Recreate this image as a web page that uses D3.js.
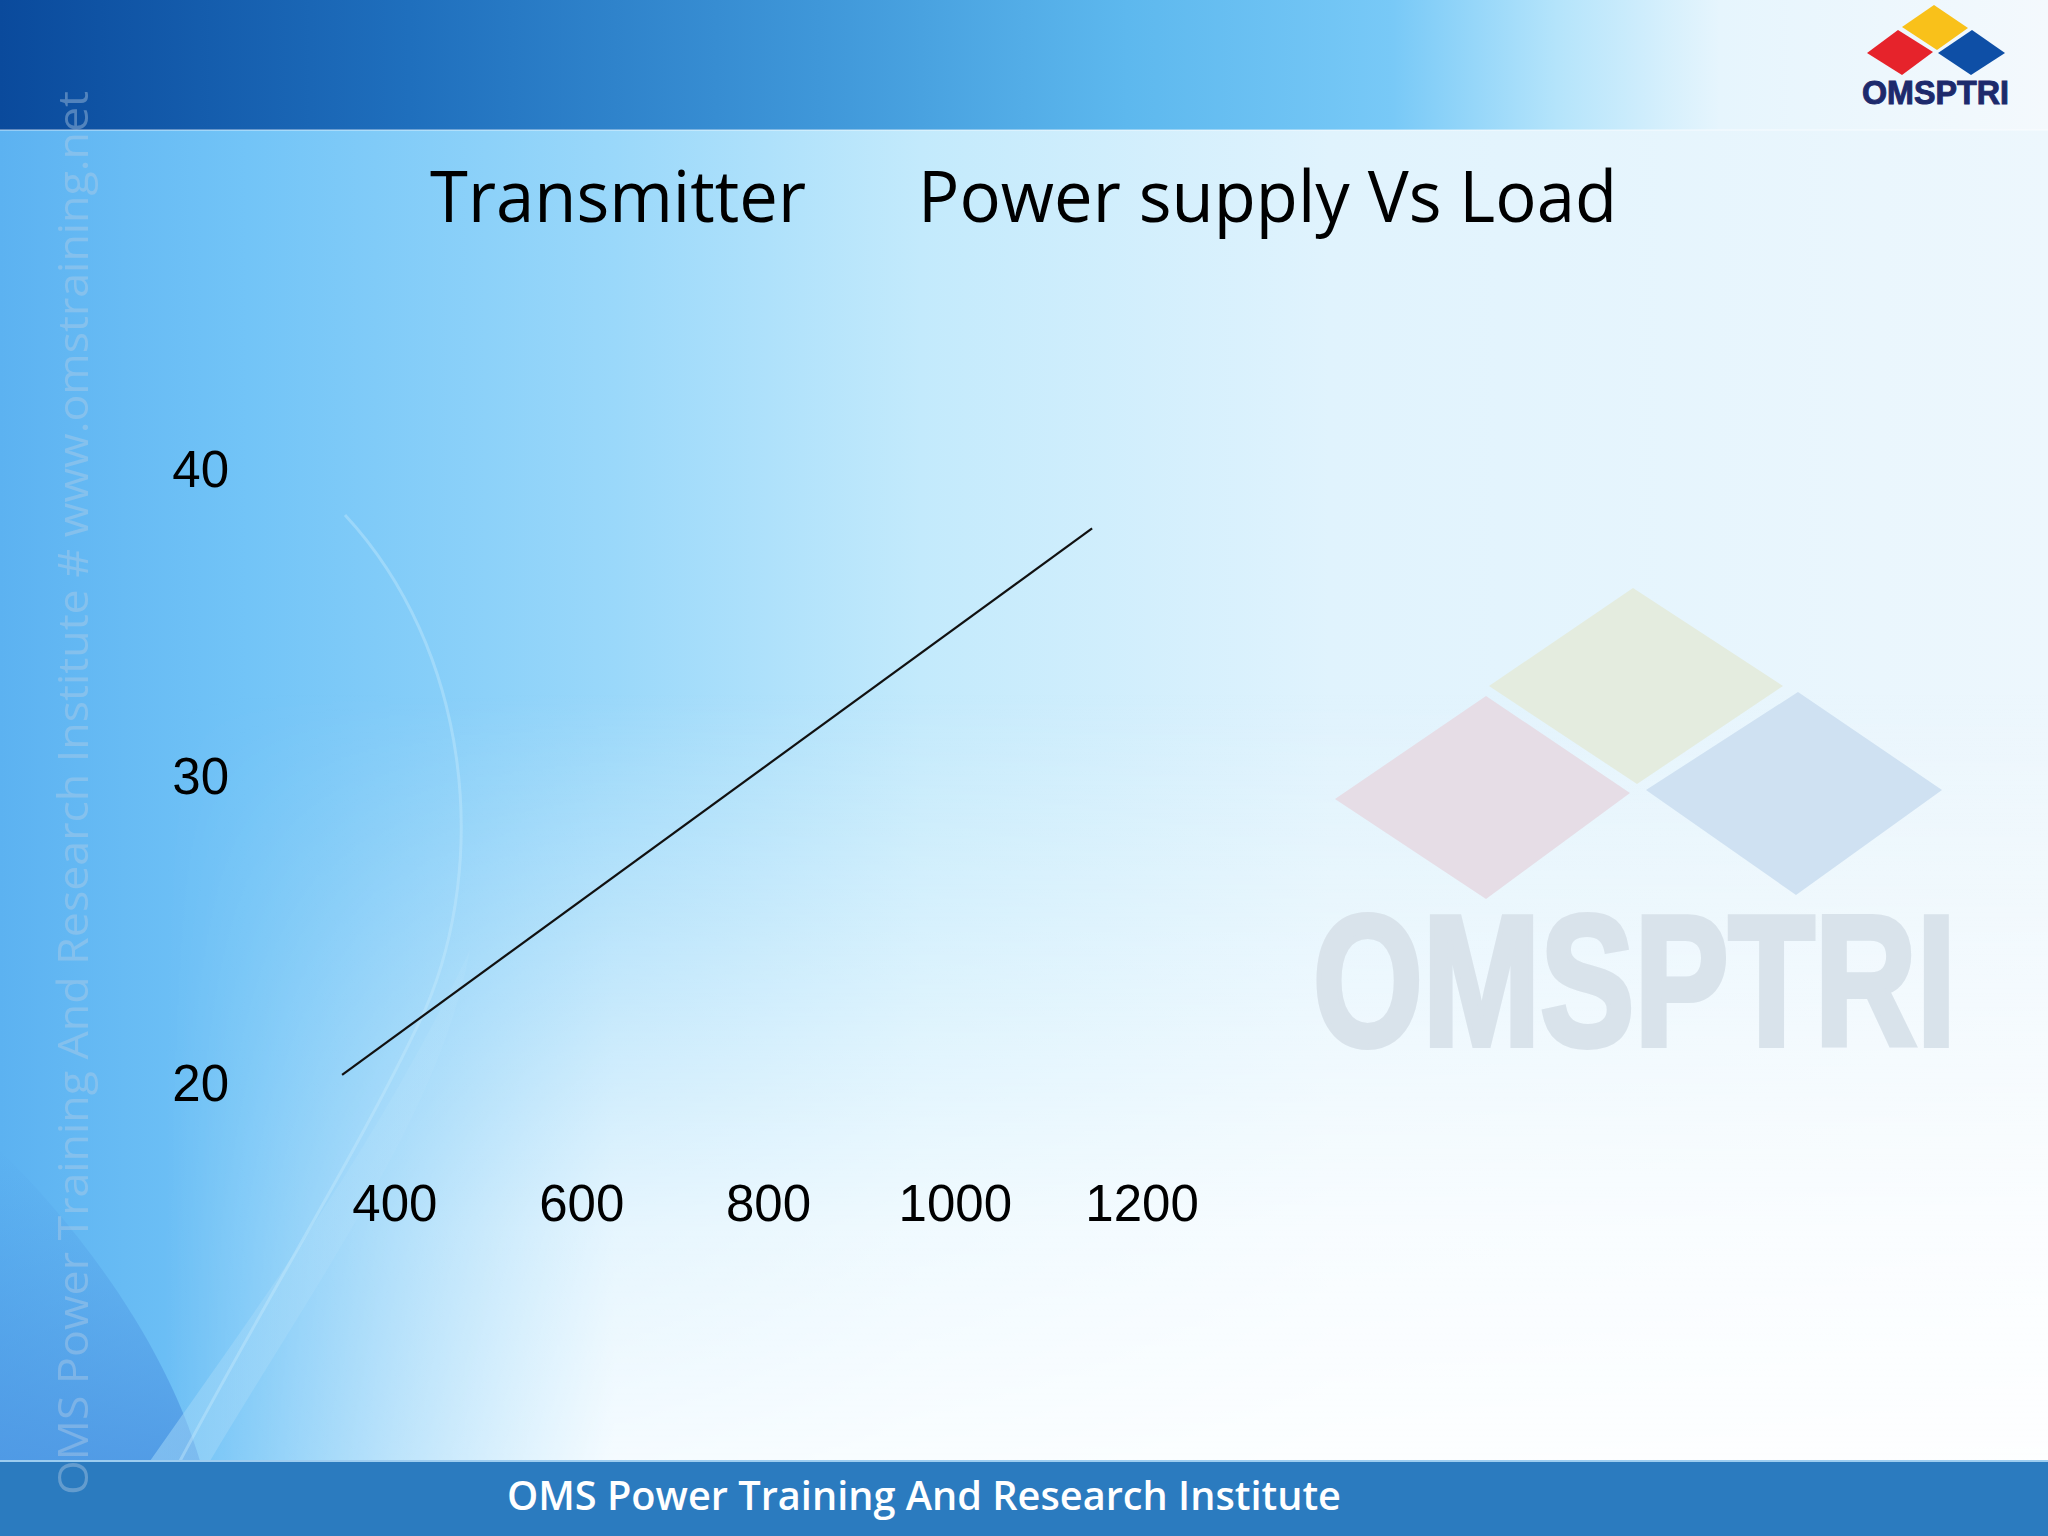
<!DOCTYPE html>
<html><head><meta charset="utf-8">
<script src="https://cdn.jsdelivr.net/npm/d3@7"></script>
<style>html,body{margin:0;padding:0;overflow:hidden;background:#fff}</style>
</head><body><svg id="c" width="2048" height="1536"></svg>
<script>
// ---- data ----
const titleParts = ["Transmitter", "Power supply Vs Load"];
const loadTicks = [400, 600, 800, 1000, 1200];
const voltTicks = [20, 30, 40];
const loadValues = [344, 1147];
const voltValues = [20.3, 38.1];
const footerText = "OMS Power Training And Research Institute";
const sideText = "OMS Power Training And Research Institute # www.omstraining.net";
const logoText = "OMSPTRI";

const svg = d3.select("#c");
const W = 2048, H = 1536;
const defs = svg.append("defs");

function lin(id, x1, y1, x2, y2, stops) {
  const g = defs.append("linearGradient").attr("id", id)
    .attr("x1", x1).attr("y1", y1).attr("x2", x2).attr("y2", y2);
  stops.forEach(s => g.append("stop").attr("offset", s[0]).attr("stop-color", s[1]).attr("stop-opacity", s[2] == null ? 1 : s[2]));
}
lin("bgH", 0, 0, 1, 0, [[0, "#5cb2f1"], [0.12, "#72c4f7"], [0.3, "#9ad8fa"], [0.45, "#c3eafc"], [0.65, "#e0f3fd"], [1, "#edf7fd"]]);
lin("bgV", 0, 0, 0, 1, [[0, "#ffffff", 0], [0.45, "#ffffff", 0], [0.8, "#ffffff", 0.75], [1, "#ffffff", 0.95]]);
lin("maskH", 0, 0, 1, 0, [[0, "#000000"], [0.08, "#000000"], [0.3, "#ffffff"], [1, "#ffffff"]]);
lin("hdr", 0, 0, 1, 0, [[0, "#0a4a9c"], [0.2, "#1f6fbd"], [0.4, "#3f97d9"], [0.55, "#5db8ee"], [0.68, "#78c9f7"], [0.76, "#b4e4fb"], [0.84, "#e6f5fd"], [1, "#f4f9fd"]]);
lin("swoosh", 0, 1, 1, 0, [[0, "#9fd6f8", 0.55], [1, "#bfe6fb", 0.15]]);
lin("corner", 0, 0, 0, 1, [[0, "#4c94e2", 0], [1, "#4c94e2", 0.8]]);

const mask = defs.append("mask").attr("id", "mH");
mask.append("rect").attr("width", W).attr("height", H).attr("fill", "url(#maskH)");

// background
svg.append("rect").attr("width", W).attr("height", H).attr("fill", "url(#bgH)");
svg.append("rect").attr("width", W).attr("height", H).attr("fill", "url(#bgV)").attr("mask", "url(#mH)");
svg.append("path").attr("d", "M0,1150 C100,1250 170,1360 200,1461 L0,1461 Z").attr("fill", "url(#corner)");
svg.append("path")
  .attr("d", "M470,950 C440,1110 330,1260 210,1461 L150,1461 C270,1290 380,1140 470,950 Z")
  .attr("fill", "url(#swoosh)");
svg.append("path")
  .attr("d", "M345,515 C470,650 490,860 425,1010 C365,1140 265,1300 180,1461")
  .attr("fill", "none").attr("stroke", "#c8ecfc").attr("stroke-width", 3).attr("opacity", 0.4);

// header
svg.append("rect").attr("width", W).attr("height", 130).attr("fill", "url(#hdr)");
svg.append("rect").attr("y", 129).attr("width", W).attr("height", 2).attr("fill", "#ffffff").attr("opacity", 0.35);

// footer
svg.append("rect").attr("y", 1461).attr("width", W).attr("height", H - 1461).attr("fill", "#2b7bbf");
svg.append("rect").attr("y", 1460).attr("width", W).attr("height", 2).attr("fill", "#9ccdf0");
svg.append("text").attr("x", 507).attr("y", 1510)
  .attr("font-family", "'Open Sans', 'Noto Sans', sans-serif").attr("font-size", 40).attr("font-weight", 600)
  .attr("fill", "#ffffff").attr("textLength", 834).attr("lengthAdjust", "spacingAndGlyphs")
  .text(footerText);

// side watermark text
svg.append("text").attr("transform", "translate(88,1495) rotate(-90)")
  .attr("font-family", "'Open Sans', 'Noto Sans', sans-serif").attr("font-size", 42)
  .attr("fill", "#b8cfe6").attr("opacity", 0.4)
  .attr("textLength", 1404).attr("lengthAdjust", "spacingAndGlyphs")
  .text(sideText);

// fitted condensed text helper (scales horizontally to a target width)
function fitText(parent, x0, y0, width, size, fill, sw) {
  const t = parent.append("text")
    .attr("font-family", "'Liberation Sans', Arial, sans-serif")
    .attr("font-weight", "bold").attr("font-size", size)
    .attr("fill", fill).attr("stroke", fill).attr("stroke-width", sw)
    .text(logoText);
  const w = t.node().getComputedTextLength();
  t.attr("transform", `translate(${x0},${y0}) scale(${width / w},1)`);
  return t;
}

// big faded watermark logo
const wm = svg.append("g");
wm.append("polygon").attr("points", "1633,588 1783,686 1637,784 1489,686").attr("fill", "#e4ecdf");
wm.append("polygon").attr("points", "1486,696 1630,793 1486,899 1335,799").attr("fill", "#e6dde6");
wm.append("polygon").attr("points", "1798,692 1942,790 1796,895 1646,790").attr("fill", "#cfe1f2");
fitText(wm, 1313, 1045, 643, 186, "#d9e3eb", 6);

// header logo
const lg = svg.append("g");
lg.append("polygon").attr("points", "1934,5 1968,28 1937,50 1902,27").attr("fill", "#f9c11a");
lg.append("polygon").attr("points", "1898,30 1933,52 1902,75 1867,53").attr("fill", "#e6232b");
lg.append("polygon").attr("points", "1972,30 2005,53 1971,75 1938,53").attr("fill", "#0e4fa6");
fitText(lg, 1862, 104, 147, 33, "#1d2a6c", 1);

// title
const titleFont = "'Open Sans', 'Noto Sans', sans-serif";
[[430, 376], [918, 699]].forEach((p, i) => {
  svg.append("text").attr("x", p[0]).attr("y", 222)
    .attr("font-family", titleFont).attr("font-size", 71).attr("fill", "#000")
    .attr("textLength", p[1]).attr("lengthAdjust", "spacingAndGlyphs")
    .text(titleParts[i]);
});

// scales
const x = d3.scaleLinear().domain([400, 1200]).range([394.4, 1141.6]);
const y = d3.scaleLinear().domain([20, 40]).range([1084, 470]);

const axFont = "'Liberation Sans', Arial, sans-serif";
const yAx = svg.append("g").attr("transform", "translate(229,0)")
  .call(d3.axisLeft(y).tickValues(voltTicks).tickSize(0).tickPadding(0).tickFormat(d3.format("d")));
const xAx = svg.append("g").attr("transform", "translate(0,1185)")
  .call(d3.axisBottom(x).tickValues(loadTicks).tickSize(0).tickPadding(0).tickFormat(d3.format("d")));
[yAx, xAx].forEach(a => {
  a.select(".domain").remove();
  a.selectAll("text").attr("font-family", axFont).attr("font-size", 51).attr("fill", "#000");
});

// line
const pts = loadValues.map((v, i) => [v, voltValues[i]]);
svg.append("path").datum(pts)
  .attr("d", d3.line().x(d => x(d[0])).y(d => y(d[1])))
  .attr("fill", "none").attr("stroke", "#111").attr("stroke-width", 2.2);
</script></body></html>
